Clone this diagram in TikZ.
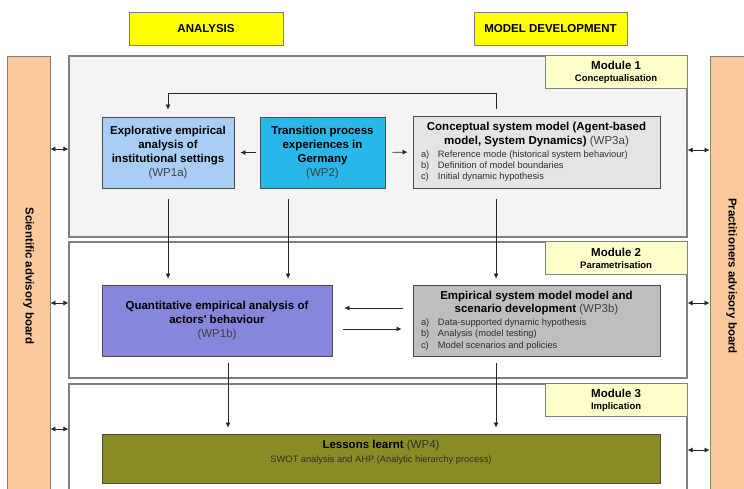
\documentclass[tikz,border=0pt]{standalone}
\usepackage{fontspec}
\setmainfont{Liberation Sans}
\usepackage{graphicx}
\usetikzlibrary{backgrounds}
\usetikzlibrary{arrows.meta}

\definecolor{headyellow}{HTML}{FFFF00}
\definecolor{boardpeach}{HTML}{FBCA9C}
\definecolor{panelgray}{HTML}{F4F4F4}
\definecolor{labelcream}{HTML}{FFFFCC}
\definecolor{edgegray}{HTML}{808080}
\definecolor{wpgray}{HTML}{404040}
\definecolor{itemgray}{HTML}{2E2E2E}
\definecolor{wpafill}{HTML}{A8CEF6}
\definecolor{wptwofill}{HTML}{29B6E8}
\definecolor{wpthreefill}{HTML}{E4E4E4}
\definecolor{wpbfill}{HTML}{8686DA}
\definecolor{wpthreebfill}{HTML}{BEBEBE}
\definecolor{wpfourfill}{HTML}{8B8B26}

% work package number and the small item lines
\newcommand{\wpno}[1]{{\mdseries\color{wpgray}#1}}
\newcommand{\itemfont}{\fontsize{9.3}{11.3}\selectfont\mdseries\color{itemgray}}
\newcommand{\itemline}[2]{\makebox[17pt][l]{#1}#2}

\begin{document}
\begin{tikzpicture}[
    x=1pt, y=-1pt,
    background rectangle/.style={fill=white}, show background rectangle,
    head/.style={draw=edgegray, fill=headyellow, line width=0.9pt, minimum height=33pt,
        font=\fontsize{11.5}{13.8}\selectfont\bfseries},
    board/.style={draw=edgegray, fill=boardpeach, line width=0.9pt, minimum width=43pt,
        minimum height=440pt, font=\fontsize{11.5}{13.8}\selectfont\bfseries},
    panel/.style={draw=edgegray, line width=1.2pt, minimum width=618pt},
    modlabel/.style={draw=edgegray, fill=labelcream, line width=1pt, minimum width=142pt,
        minimum height=33pt, inner sep=0pt, align=center, anchor=north east,
        font=\fontsize{11.5}{12.6}\selectfont\bfseries},
    wpbox/.style={draw=black!70, line width=0.9pt, minimum height=71pt, inner sep=2pt,
        align=center, font=\fontsize{11.5}{13.7}\selectfont\bfseries},
    flow/.style={draw=black!85, line width=0.7pt, -{Latex[length=5pt,width=5pt]}},
    twoway/.style={draw=black!85, line width=0.7pt,
        {Latex[length=5pt,width=5pt]}-{Latex[length=5pt,width=5pt]}}]

    \useasboundingbox (0,0) rectangle (744,488);

    % column lines used by the vertical arrows
    \coordinate (col2) at (288,0);
    \coordinate (col3) at (496,0);
    \coordinate (col4) at (228,0);

    % headers
    \node[head, minimum width=154pt] at (206,28.5) (ana) {ANALYSIS};
    \node[head, minimum width=153pt] at (550.5,28.5) (mdev) {MODEL DEVELOPMENT};

    % advisory boards on both sides
    \node[board] at (28.5,276) (sci) {\rotatebox{-90}{Scientific advisory board}};
    \node[board] at (731.5,276) (prac) {\rotatebox{-90}{Practitioners advisory board}};

    % the three module panels
    \node[panel, fill=panelgray, minimum height=181pt] at (378,146.5) (mod1) {};
    \node[panel, fill=white, minimum height=136pt] at (378,310) (mod2) {};
    \node[panel, fill=white, minimum height=116pt] at (378,442) (mod3) {};

    % module labels in the top right corners
    \node[modlabel] at (mod1.north east) (lab1)
        {Module 1\\{\fontsize{9.5}{11}\selectfont Conceptualisation}};
    \node[modlabel] at (mod2.north east) (lab2)
        {Module 2\\{\fontsize{9.5}{11}\selectfont Parametrisation}};
    \node[modlabel] at (mod3.north east) (lab3)
        {Module 3\\{\fontsize{9.5}{11}\selectfont Implication}};

    % module 1 work packages
    \node[wpbox, fill=wpafill, minimum width=132pt] at (168,152.5) (wp1a)
        {Explorative empirical\\analysis of\\institutional settings\\\wpno{(WP1a)}};
    \node[wpbox, fill=wptwofill, minimum width=125pt] at (322.5,152.5) (wp2)
        {Transition process\\experiences in\\Germany\\\wpno{(WP2)}};
    \node[wpbox, fill=wpthreefill, minimum width=247pt, minimum height=72pt] at (536.5,152) (wp3a)
        {Conceptual system model (Agent-based\\
         model, System Dynamics) \wpno{(WP3a)}\\[-1pt]
         \parbox[t]{231pt}{\leavevmode\itemfont
            \itemline{a)}{Reference mode (historical system behaviour)}\\
            \itemline{b)}{Definition of model boundaries}\\
            \itemline{c)}{Initial dynamic hypothesis}}};

    % module 2 work packages
    \node[wpbox, fill=wpbfill, minimum width=230pt] at (217,320.5) (wp1b)
        {Quantitative empirical analysis of\\actors\textquotesingle\ behaviour\\\wpno{(WP1b)}};
    \node[wpbox, fill=wpthreebfill, minimum width=247pt] at (536.5,320.5) (wp3b)
        {Empirical system model model and\\
         scenario development \wpno{(WP3b)}\\[-1pt]
         \parbox[t]{231pt}{\leavevmode\itemfont
            \itemline{a)}{Data-supported dynamic hypothesis}\\
            \itemline{b)}{Analysis (model testing)}\\
            \itemline{c)}{Model scenarios and policies}}};

    % module 3 work package
    \node[wpbox, fill=wpfourfill, minimum width=558pt, minimum height=49pt, text depth=15pt]
        at (381,458.5) (wp4)
        {Lessons learnt {\mdseries\color{itemgray}(WP4)}\\[0.5pt]
         {\itemfont SWOT analysis and AHP (Analytic hierarchy process)}};

    % feedback from the conceptual model back to WP1a
    \draw[flow, shorten <=7pt, shorten >=7pt] (wp3a.north -| col3) -- ++(0,-22) -| (wp1a.north);

    % WP2 feeds its neighbours
    \draw[flow, shorten <=4pt, shorten >=6pt] (wp2.west) -- (wp1a.east);
    \draw[flow, shorten <=7pt, shorten >=5pt] (wp2.east) -- (wp3a.west);

    % module 1 into module 2
    \draw[flow, shorten <=11pt, shorten >=6pt] (wp1a.south) -- (wp1b.north -| wp1a.south);
    \draw[flow, shorten <=11pt, shorten >=6pt] (wp2.south -| col2) -- (wp1b.north -| col2);
    \draw[flow, shorten <=11pt, shorten >=6pt] (wp3a.south -| col3) -- (wp3b.north -| col3);

    % exchange between WP1b and WP3b
    \draw[flow, shorten <=10pt, shorten >=12pt] ([yshift=12.5pt]wp3b.west) -- ([yshift=12.5pt]wp1b.east);
    \draw[flow, shorten <=11pt, shorten >=11pt] ([yshift=-8.5pt]wp1b.east) -- ([yshift=-8.5pt]wp3b.west);

    % module 2 into module 3
    \draw[flow, shorten <=7pt, shorten >=6pt] (wp1b.south -| col4) -- (wp4.north -| col4);
    \draw[flow, shorten <=7pt, shorten >=6pt] (wp3b.south -| col3) -- (wp4.north -| col3);

    % boards talk to every module
    \draw[twoway] (sci.east |- 0,149) -- (mod1.west |- 0,149);
    \draw[twoway] (sci.east |- 0,303) -- (mod2.west |- 0,303);
    \draw[twoway] (sci.east |- 0,429) -- (mod3.west |- 0,429);
    \draw[twoway] (mod1.east |- 0,150) -- (prac.west |- 0,150);
    \draw[twoway] (mod2.east |- 0,303) -- (prac.west |- 0,303);
    \draw[twoway] (mod3.east |- 0,450) -- (prac.west |- 0,450);

\end{tikzpicture}
\end{document}
